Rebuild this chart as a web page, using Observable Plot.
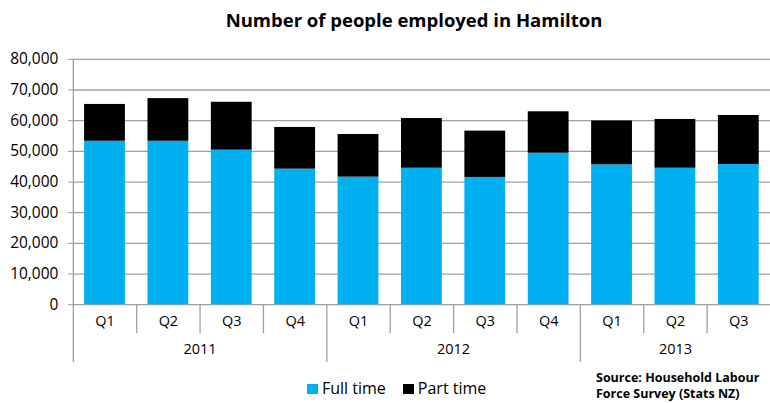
<!DOCTYPE html>
<html>
<head>
<meta charset="utf-8">
<script src="https://cdn.jsdelivr.net/npm/d3@7"></script>
<script src="https://cdn.jsdelivr.net/npm/@observablehq/plot@0.6"></script>
<style>
  html, body { margin: 0; padding: 0; background: #fff; overflow: hidden; }
  #wrap { position: relative; width: 770px; height: 403px; overflow: hidden; font-family: "Open Sans", sans-serif; }
  #chart { position: absolute; left: 0; top: 0; }
  #title { position: absolute; left: 0; width: 828px; top: 7px; text-align: center; font-weight: bold; font-size: 18.5px; color: #000; }
  #legend { position: absolute; left: 307px; top: 377px; font-size: 16px; color: #000; white-space: nowrap; }
  #legend span.sw { display: inline-block; width: 11px; height: 10px; margin-right: 4px; vertical-align: 0px; }
  #legend span.item { margin-right: 17px; }
  #source { position: absolute; left: 596px; top: 370px; font-size: 12.5px; font-weight: bold; line-height: 16px; color: #000; white-space: nowrap; }
</style>
</head>
<body>
<div id="wrap">
  <div id="chart"></div>
  <div id="title">Number of people employed in Hamilton</div>
  <div id="legend"></div>
  <div id="source">Source: Household Labour<br>Force Survey (Stats NZ)</div>
</div>
<script>
// ---- data ----
const quarters = ["Q1","Q2","Q3","Q4","Q1","Q2","Q3","Q4","Q1","Q2","Q3"];
const years    = ["2011","2011","2011","2011","2012","2012","2012","2012","2013","2013","2013"];
const fullTime = [53300, 53300, 50400, 44200, 41600, 44500, 41500, 49400, 45600, 44500, 45700];
const partTime = [12000, 13900, 15600, 13600, 13900, 16200, 15100, 13500, 14300, 15900, 16000];
const yTicks   = [0, 10000, 20000, 30000, 40000, 50000, 60000, 70000, 80000];
const seriesNames  = ["Full time", "Part time"];
const seriesColors = ["#00B0F0", "#000000"];

// ---- derived tables ----
const rows = quarters.map((q, i) => ({i, q, year: years[i], full: fullTime[i], part: partTime[i]}));
const segs = rows.flatMap(r => [
  {i: r.i, series: seriesNames[0], y1: 0, y2: r.full},
  {i: r.i, series: seriesNames[1], y1: r.full, y2: r.full + r.part}
]);
const yearGroups = d3.groups(rows, r => r.year).map(([year, rs]) => ({
  year, start: d3.min(rs, r => r.i), end: d3.max(rs, r => r.i) + 1
}));
const yearStarts = yearGroups.map(g => g.start);
const quarterSeps = rows.map(r => r.i).filter(i => i > 0 && !yearStarts.includes(i));

const W = 772, H = 403, mt = 59, mb = 98, ml = 73;
const plotH = H - mt - mb;
const inset = 0.178;
const gray = "#a0a0a0";

const chart = Plot.plot({
  width: W, height: H,
  marginTop: mt, marginBottom: mb, marginLeft: ml, marginRight: 0,
  style: {fontFamily: "'Open Sans', sans-serif", fontSize: "14px", color: "#000", background: "#fff"},
  x: {domain: [0, quarters.length], axis: null},
  y: {domain: [0, 80000], ticks: yTicks, axis: null},
  color: {domain: seriesNames, range: seriesColors},
  marks: [
    Plot.ruleY(yTicks, {stroke: gray, strokeWidth: 1.3}),
    Plot.axisY({ticks: yTicks, tickFormat: d3.format(","), tickSize: 5, tickPadding: 10, stroke: gray, fill: "#000", fontSize: 15.5, label: null}),
    Plot.rect(segs, {x1: d => d.i + inset, x2: d => d.i + 1 - inset, y1: "y1", y2: "y2", fill: "series"}),
    // vertical axis line (first year start), extended below
    Plot.ruleX(yearStarts.slice(0, 1), {x: d => d, stroke: gray, strokeWidth: 1.3, insetBottom: -58}),
    // year separators (below the plot only)
    Plot.ruleX(yearStarts.slice(1), {x: d => d, stroke: gray, strokeWidth: 1.3, insetTop: plotH, insetBottom: -58}),
    // quarter separators
    Plot.ruleX(quarterSeps, {x: d => d, stroke: gray, strokeWidth: 1.3, insetTop: plotH, insetBottom: -29}),
    // quarter labels
    Plot.text(rows, {x: d => d.i + 0.5, text: "q", frameAnchor: "bottom", dy: 21, fontSize: 14.5, fill: "#000"}),
    // year labels
    Plot.text(yearGroups, {x: d => (d.start + d.end) / 2, text: "year", frameAnchor: "bottom", dy: 49, fontSize: 14.5, fill: "#000"})
  ]
});
document.getElementById("chart").appendChild(chart);

const legend = document.getElementById("legend");
seriesNames.forEach((n, k) => {
  const item = document.createElement("span");
  item.className = "item";
  const sw = document.createElement("span");
  sw.className = "sw";
  sw.style.background = seriesColors[k];
  item.appendChild(sw);
  item.appendChild(document.createTextNode(n));
  legend.appendChild(item);
});
</script>
</body>
</html>
